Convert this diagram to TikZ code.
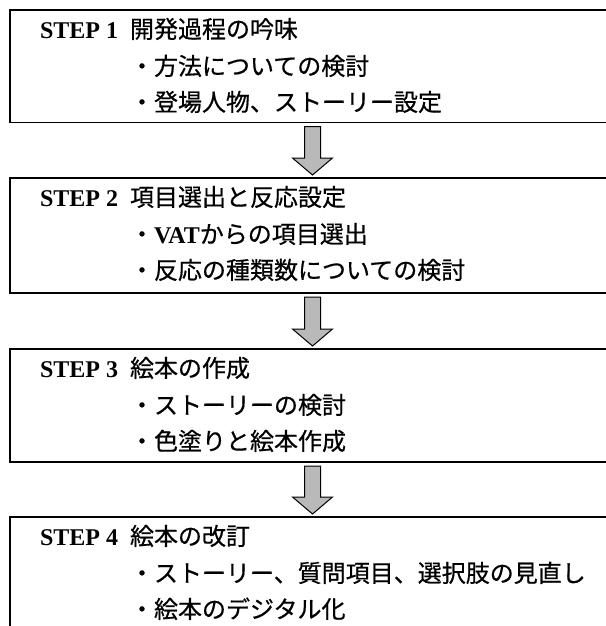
\documentclass[tikz,border=0pt]{standalone}
\usepackage{fontspec}
\setmainfont{Liberation Serif}
\newfontfamily\jp{Noto Sans CJK JP}[FakeBold=0.6]
\usetikzlibrary{calc}
\tikzset{
  stepbox/.style={draw=black, line width=1.4pt, rectangle, minimum width=605pt, inner sep=0pt, outer sep=0pt, anchor=north west},
  txt/.style={anchor=base west, inner sep=0pt, outer sep=0pt, font=\fontsize{24pt}{26pt}\selectfont},
  bigarrow/.style={draw=black, line width=1pt, fill=gray!55, line join=miter},
}
\newcommand{\stepline}[3]{%
  \node[txt] at ($(#1.north west)+(30pt,-28pt)$) {\bfseries STEP #2};
  \node[txt] at ($(#1.north west)+(120pt,-28pt)$) {\jp #3};
}
\newcommand{\myblockarrow}[2]{%
  \draw[bigarrow] ($(#1.south)+(-8pt,-4pt)$) -- ($(#1.south)+(8pt,-4pt)$)
    -- ($(#2.north)+(8pt,20pt)$) -- ($(#2.north)+(20pt,20pt)$)
    -- ($(#2.north)+(0pt,3pt)$) -- ($(#2.north)+(-20pt,20pt)$)
    -- ($(#2.north)+(-8pt,20pt)$) -- cycle;
}
\begin{document}
\begin{tikzpicture}[x=1pt,y=1pt]
\useasboundingbox[fill=white] (0,0) rectangle (605,-626);
\node[stepbox, minimum height=112.5pt] (b1) at (10,-10) {};
\node[stepbox, minimum height=115pt] (b2) at (10,-178) {};
\node[stepbox, minimum height=113pt] (b3) at (10,-349) {};
\node[stepbox, minimum height=140pt] (b4) at (10,-517) {};

\stepline{b1}{1}{開発過程の吟味}
\node[txt] (i11) at ($(b1.north west)+(120pt,-65pt)$) {\jp ・方法についての検討};
\node[txt] (i12) at ($(b1.north west)+(120pt,-101pt)$) {\jp ・登場人物、ストーリー設定};

\stepline{b2}{2}{項目選出と反応設定}
\node[txt] (i21) at ($(b2.north west)+(120pt,-65pt)$) {{\jp ・}{\bfseries VAT}{\jp からの項目選出}};
\node[txt] (i22) at ($(b2.north west)+(120pt,-101pt)$) {\jp ・反応の種類数についての検討};

\stepline{b3}{3}{絵本の作成}
\node[txt] (i31) at ($(b3.north west)+(120pt,-65pt)$) {\jp ・ストーリーの検討};
\node[txt] (i32) at ($(b3.north west)+(120pt,-101pt)$) {\jp ・色塗りと絵本作成};

\stepline{b4}{4}{絵本の改訂}
\node[txt] (i41) at ($(b4.north west)+(120pt,-65pt)$) {\jp ・ストーリー、質問項目、選択肢の見直し};
\node[txt] (i42) at ($(b4.north west)+(120pt,-101pt)$) {\jp ・絵本のデジタル化};

\myblockarrow{b1}{b2}
\myblockarrow{b2}{b3}
\myblockarrow{b3}{b4}
\end{tikzpicture}
\end{document}
